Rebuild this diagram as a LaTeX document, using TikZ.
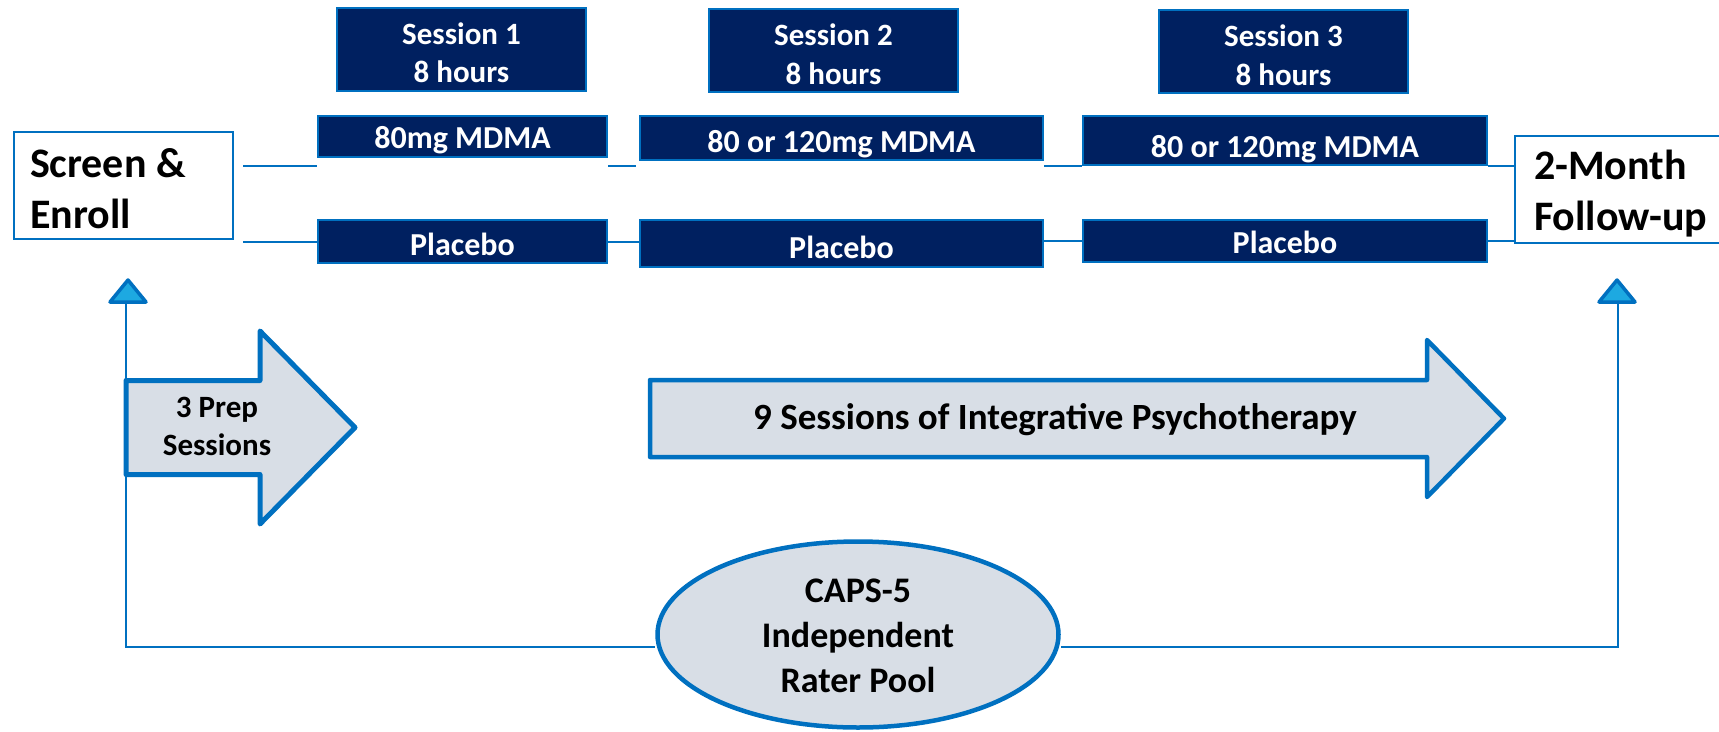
\documentclass[tikz,border=0pt]{standalone}
\usepackage{fontspec}
\setmainfont{Carlito}
\usetikzlibrary{shapes.geometric}

\definecolor{navy}{HTML}{002060}
\definecolor{edge}{HTML}{0070C0}
\definecolor{mist}{HTML}{D8DEE6}
\definecolor{sky}{HTML}{1DA9E1}

% stacked lines whose baseline is the last line
\newcommand{\textrows}[2][c]{\begin{tabular}[b]{@{}#1@{}}#2\end{tabular}}

\tikzset{
  darkbox/.style={rectangle, fill=navy, draw=edge, line width=2pt, inner sep=0pt,
    text=white, text depth=0pt, font=\bfseries\fontsize{32}{38}\selectfont},
  session/.style={darkbox, minimum width=249pt, minimum height=83pt, text height=67pt,
    font=\bfseries\fontsize{31}{38.5}\selectfont},
  whitebox/.style={rectangle, fill=white, draw=edge, line width=2pt, inner sep=0pt,
    minimum height=107pt, text depth=0pt, font=\bfseries\fontsize{42}{51}\selectfont},
  link/.style={draw=edge, line width=2pt},
  blockarrow/.style={fill=mist, draw=edge, line join=round},
  marker/.style={fill=sky, draw=edge, line width=3.5pt, line join=round},
  caption/.style={anchor=base, inner sep=0pt}
}

\begin{document}
\begin{tikzpicture}[x=1pt, y=-1pt]
\useasboundingbox (0,0) rectangle (1719,731);
\fill[white] (0,0) rectangle (1719,731);

% session headers
\node[session] (s1) at (461.5,49)   {\textrows{Session 1\\8 hours}};
\node[session] (s2) at (833.5,50.5) {\textrows{Session 2\\8 hours}};
\node[session] (s3) at (1283.5,51.5){\textrows{Session 3\\8 hours}};

% dose arms
\node[darkbox, minimum width=289pt, minimum height=41pt, text height=23pt] (m1) at (462.5,136.5) {80mg MDMA};
\node[darkbox, minimum width=403pt, minimum height=44pt, text height=28pt] (m2) at (841.5,138) {80 or 120mg MDMA};
\node[darkbox, minimum width=404pt, minimum height=49pt, text height=33pt] (m3) at (1285,140.5) {80 or 120mg MDMA};
\node[darkbox, minimum width=289pt, minimum height=43pt, text height=27pt] (p1) at (462.5,241.5) {Placebo};
\node[darkbox, minimum width=403pt, minimum height=47pt, text height=29pt] (p2) at (841.5,243.5) {Placebo};
\node[darkbox, minimum width=404pt, minimum height=42pt, text height=24pt] (p3) at (1285,241) {Placebo};

% start and end of the study
\node[whitebox, minimum width=219pt, text height=85pt] (se) at (123.5,185.5)
  {\makebox[187pt][l]{\textrows[l]{Screen \&\\Enroll}}};
\node[whitebox, minimum width=214pt, text height=81pt] (fu) at (1622,189.5)
  {\makebox[176pt][l]{\textrows[l]{2-Month\\Follow-up}}};

% arm connectors
\draw[link] ([xshift=9pt]se.east |- m3.south) -- (m1.west |- m3.south);
\draw[link] (m1.east |- m3.south) -- ([xshift=-3pt]m2.west |- m3.south);
\draw[link] (m2.east |- m3.south) -- (m3.south west);
\draw[link] (m3.south east) -- (fu.west |- m3.south);
\draw[link] ([xshift=9pt]se.east |- p1.west) -- (p1.west);
\draw[link] (p1.east) -- (p2.west |- p1.east);
\draw[link] (p2.east |- p3.west) -- (p3.west);
\draw[link] (p3.east) -- (fu.west |- p3.east);

% independent rater pool
\node[ellipse, fill=mist, draw=edge, line width=4.5pt, minimum width=401pt, minimum height=186pt,
      inner sep=0pt, text height=115pt, text depth=0pt, font=\bfseries\fontsize{36}{45}\selectfont]
  (caps) at (858,634.5) {\textrows{CAPS-5\\Independent\\Rater Pool}};

% assessment rails
\coordinate (baseL) at (126,302);
\coordinate (cornerL) at (126,647);
\coordinate (baseR) at (1618,302);
\coordinate (cornerR) at (1618,647);
\draw[link] (baseL) -- (cornerL) -- (cornerL -| caps.west);
\draw[link] (baseR) -- (cornerR) -- (cornerR -| caps.east);

\coordinate (tipL) at (128,280);
\coordinate (tipR) at (1617,280);
\draw[marker] (tipL) -- ++(-18,22) -- ++(36,0) -- cycle;
\draw[marker] (tipR) -- ++(-18,22) -- ++(36,0) -- cycle;

% therapy phases
\draw[blockarrow, line width=5pt] (126,380.5) -- (260,380.5) -- (260,331) -- (355,427.5)
  -- (260,524) -- (260,474.5) -- (126,474.5) -- cycle;
\node[caption, font=\bfseries\fontsize{31}{38}\selectfont] (prep) at (217,455)
  {\textrows{3 Prep\\Sessions}};

\draw[blockarrow, line width=4.5pt] (650,380) -- (1427,380) -- (1427,340) -- (1504,418.5)
  -- (1427,497) -- (1427,457) -- (650,457) -- cycle;
\node[caption, font=\bfseries\fontsize{37}{44}\selectfont] (therapy) at (1055,429)
  {9 Sessions of Integrative Psychotherapy};
\end{tikzpicture}
\end{document}
